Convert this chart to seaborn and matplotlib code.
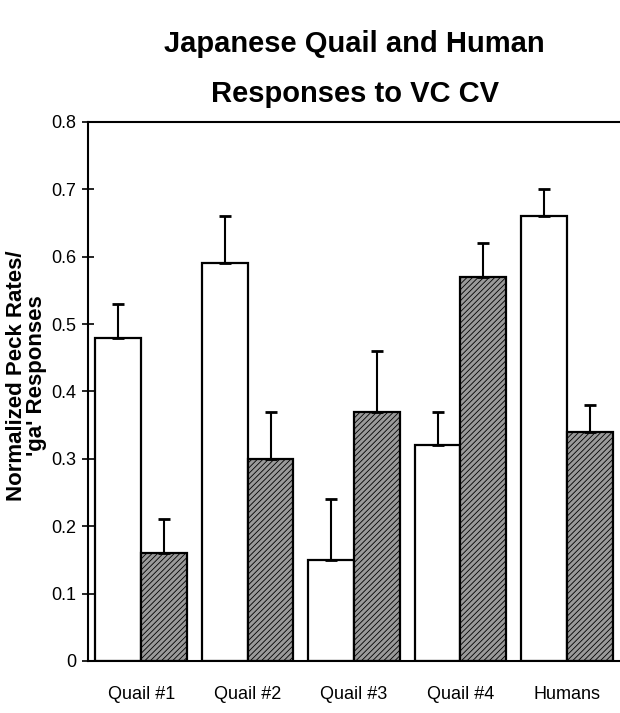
import matplotlib
matplotlib.use("Agg")
import matplotlib.pyplot as plt
import seaborn as sns
import pandas as pd

categories = ["Quail #1", "Quail #2", "Quail #3", "Quail #4", "Humans"]
series_names = ["VC", "CV"]
vc_values = [0.48, 0.59, 0.15, 0.32, 0.66]
vc_errors = [0.05, 0.07, 0.09, 0.05, 0.04]
cv_values = [0.16, 0.30, 0.37, 0.57, 0.34]
cv_errors = [0.05, 0.07, 0.09, 0.05, 0.04]
yticks = [0, 0.1, 0.2, 0.3, 0.4, 0.5, 0.6, 0.7, 0.8]
ytick_labels = ["0", "0.1", "0.2", "0.3", "0.4", "0.5", "0.6", "0.7", "0.8"]

sns.set_style("white")
fam = ["Liberation Sans", "DejaVu Sans"]
plt.rcParams["font.family"] = fam
plt.rcParams["text.color"] = "black"
plt.rcParams["axes.labelcolor"] = "black"
plt.rcParams["xtick.color"] = "black"
plt.rcParams["ytick.color"] = "black"
plt.rcParams["hatch.linewidth"] = 0.6
plt.rcParams["hatch.color"] = "#444444"

df = pd.DataFrame({
    "group": categories * 2,
    "series": [series_names[0]] * 5 + [series_names[1]] * 5,
    "value": vc_values + cv_values,
    "err": vc_errors + cv_errors,
})

fig = plt.figure(figsize=(6.2, 7.13), dpi=100)
ax = fig.add_axes([0.142, 0.073, 0.858, 0.756])

sns.barplot(data=df, x="group", y="value", hue="series", order=categories,
            hue_order=series_names, palette=["white", "#9a9a9a"],
            width=0.86, gap=0, errorbar=None, legend=False, ax=ax,
            edgecolor="black", linewidth=1.6)

n = len(categories)
for i, p in enumerate(ax.patches[:2 * n]):
    if i >= n:
        p.set_hatch("//////")
    xc = p.get_x() + p.get_width() / 2
    h = p.get_height()
    e = df["err"].iloc[i]
    ax.errorbar([xc], [h], yerr=[[0], [e]], fmt="none", ecolor="black",
                elinewidth=1.5, capsize=4, capthick=2)

ax.set_xlim(-0.5, 4.5)
ax.set_ylim(0, 0.8)
ax.set_yticks(yticks)
ax.set_yticklabels(ytick_labels, fontsize=13)
ax.tick_params(axis="y", direction="inout", length=9, width=1.2, left=True, pad=4)
ax.tick_params(axis="x", length=0, pad=18, labelsize=13)
ax.set_xlabel("")
ax.set_ylabel("Normalized Peck Rates/\n'ga' Responses", fontsize=16,
              fontweight="bold", linespacing=0.92)
ax.yaxis.set_label_coords(-0.078, 0.53)
for s in ["left", "top", "bottom"]:
    ax.spines[s].set_visible(True)
    ax.spines[s].set_linewidth(1.5)
    ax.spines[s].set_color("black")
ax.spines["right"].set_visible(False)

fig.text(0.572, 0.903, "Japanese Quail and Human\nResponses to VC CV",
         ha="center", va="center", fontsize=21, fontweight="bold",
         linespacing=2.0)

fig.savefig("out.png", dpi=100)
